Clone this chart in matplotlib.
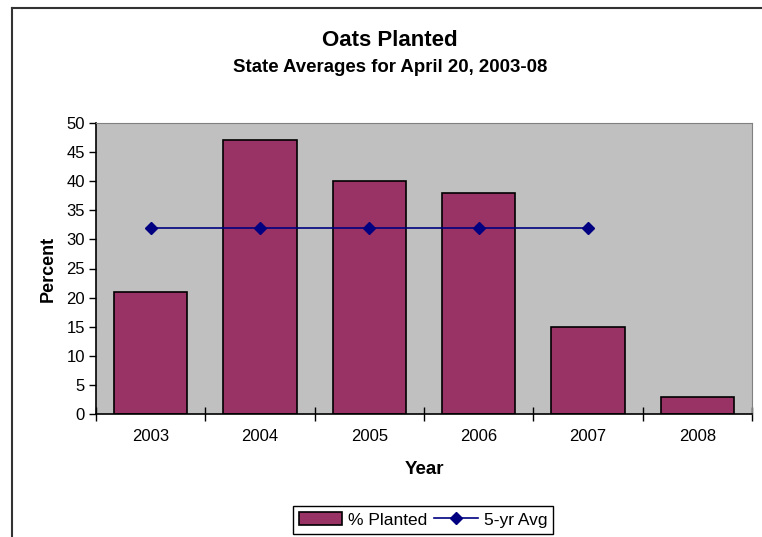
import numpy as np
import matplotlib.pyplot as plt
from matplotlib.lines import Line2D

plt.rcParams['font.family'] = ['Liberation Sans', 'DejaVu Sans']

years = ['2003', '2004', '2005', '2006', '2007', '2008']
planted = [21, 47, 40, 38, 15, 3]
avg_years = ['2003', '2004', '2005', '2006', '2007']
avg5 = [32, 32, 32, 32, 32]

W, H = 762, 537
fig = plt.figure(figsize=(W / 100, H / 100), dpi=100)
ax = fig.add_axes([96 / W, 1 - 414 / H, (752 - 96) / W, (414 - 123) / H])
ax.set_facecolor('#C0C0C0')

x = np.arange(len(years))
bars = ax.bar(x, planted, width=0.67, color='#993366', edgecolor='black', linewidth=1.2,
              label='% Planted', zorder=2)
xa = np.arange(len(avg_years))
line, = ax.plot(xa, avg5, color='#000080', marker='D', markersize=6, linewidth=1.2,
                label='5-yr Avg', zorder=3)

ax.set_xlim(-0.5, len(years) - 0.5)
ax.set_ylim(0, 50)
ax.set_yticks(range(0, 51, 5))
ax.set_xticks(x)
ax.set_xticklabels(years)
ax.set_xticks(np.arange(-0.5, len(years), 1), minor=True)
ax.tick_params(axis='x', which='major', length=0, pad=11, labelsize=12)
ax.tick_params(axis='x', which='minor', length=10, direction='inout', width=1)
ax.tick_params(axis='y', length=5, direction='out', width=1, labelsize=12, pad=3)

for s in ['top', 'right']:
    ax.spines[s].set_color('#808080')
for s in ['left', 'bottom']:
    ax.spines[s].set_color('black')
    ax.spines[s].set_linewidth(1.2)

ax.set_xlabel('Year', fontsize=13.5, fontweight='bold', labelpad=12)
ax.set_ylabel('Percent', fontsize=13, fontweight='bold', labelpad=7)

fig.text(390 / W, 1 - 40 / H, 'Oats Planted', ha='center', va='center',
         fontsize=16, fontweight='bold')
fig.text(390 / W, 1 - 68 / H, 'State Averages for April 20, 2003-08', ha='center',
         va='center', fontsize=13.4, fontweight='bold')

# chart-area border (only left and top visible in the crop)
fig.add_artist(Line2D([12 / W, 12 / W], [0, 1 - 8 / H], transform=fig.transFigure,
                      color='#333333', linewidth=1.5))
fig.add_artist(Line2D([12 / W, 1], [1 - 8 / H, 1 - 8 / H], transform=fig.transFigure,
                      color='#333333', linewidth=1.5))

leg = fig.legend([bars, line], ['% Planted', '5-yr Avg'], loc='upper center',
                 bbox_to_anchor=(423 / W, 1 - 506 / H), ncol=2, borderaxespad=0,
                 fancybox=False, edgecolor='black', framealpha=1, fontsize=12.5,
                 handlelength=2.5, handleheight=0.8, columnspacing=0.4,
                 handletextpad=0.35, borderpad=0.35)
leg.get_frame().set_linewidth(1)

fig.savefig('out.png', dpi=100)
